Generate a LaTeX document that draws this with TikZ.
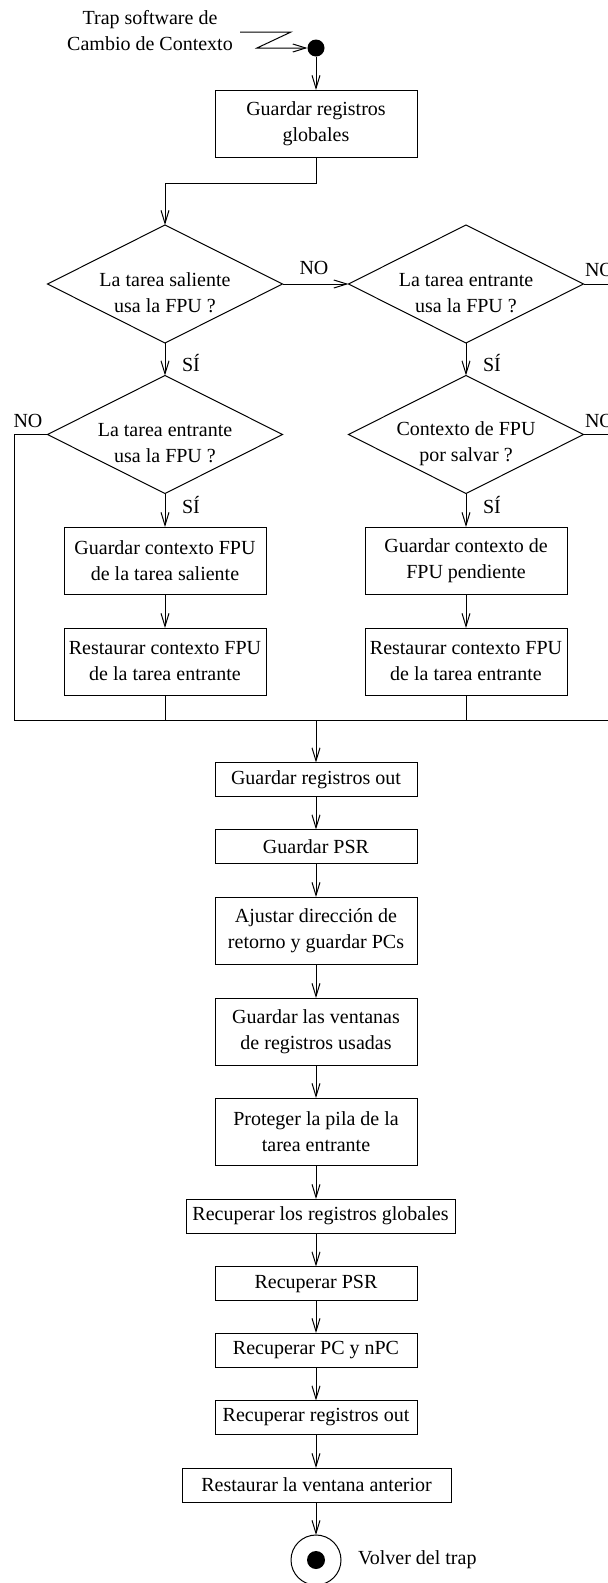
\documentclass[tikz,border=0pt]{standalone}
\usepackage{fontspec}
\setmainfont{Liberation Serif}
\usetikzlibrary{arrows.meta,shapes.geometric}

\begin{document}
\begin{tikzpicture}[x=1pt,y=-1pt,
  every node/.style={font=\fontsize{20}{26}\selectfont, outer sep=0pt},
  wire/.style={line width=1pt},
  flow/.style={wire, -{Straight Barb[length=13pt,width=8pt,line width=1pt]}},
  box/.style={draw, line width=1pt, rectangle, align=center, inner sep=0pt,
              minimum width=202pt, minimum height=34pt},
  tallbox/.style={box, minimum height=67pt},
  widebox/.style={box, minimum width=269pt},
  decision/.style={draw, line width=1pt, diamond, inner sep=0pt,
                   minimum width=235pt, minimum height=118pt},
  dtext/.style={align=center, inner sep=0pt},
  tag/.style={inner sep=0pt},
]
\useasboundingbox (0,0) rectangle (608,1583);
\clip (0,0) rectangle (608,1583);

% entry point
\node[align=center, inner sep=0pt] (trap) at (150,30.5) {Trap software de\\Cambio de Contexto};
\node[circle, fill=black, minimum size=17pt, inner sep=0pt] (start) at (316,48) {};
\coordinate (trapin) at (240,32);
\draw[flow] (trapin) -- (291,32) -- (257,48) -- (start.west);

\node[tallbox] (g1) at (316,123.5) {Guardar registros\\globales};
\draw[flow] (start) -- (g1.north);

% FPU decisions
\node[decision] (d1) at (165,284) {};
\node[dtext] (d1t) at (165,293) {La tarea saliente\\usa la FPU ?};
\node[decision] (d2) at (466,284) {};
\node[dtext] (d2t) at (466,293) {La tarea entrante\\usa la FPU ?};
\node[decision] (d3) at (165,434.5) {};
\node[dtext] (d3t) at (165,443.5) {La tarea entrante\\usa la FPU ?};
\node[decision] (d4) at (466,434.5) {};
\node[dtext] (d4t) at (466,443.5) {Contexto de FPU\\por salvar ?};

\draw[flow] (g1.south) -- ++(0,26) -| (d1.north);
\draw[flow] (d1.east) -- (d2.west);
\draw[flow] (d1.south) -- (d3.north);
\draw[flow] (d2.south) -- (d4.north);

\node[tag] (no1) at (314,268) {NO};
\node[tag, anchor=west] (no2) at (585,270) {NO};
\node[tag] (no3) at (28,421) {NO};
\node[tag, anchor=west] (no4) at (585,421) {NO};
\node[tag, anchor=west] (si1) at (182,363) {SÍ};
\node[tag, anchor=west] (si2) at (483,363) {SÍ};
\node[tag, anchor=west] (si3) at (182,505) {SÍ};
\node[tag, anchor=west] (si4) at (483,505) {SÍ};

% FPU context boxes
\node[tallbox] (l1) at (165,560.5) {Guardar contexto FPU\\de la tarea saliente};
\node[tallbox] (l2) at (165,661.5) {Restaurar contexto FPU\\de la tarea entrante};
\node[tallbox] (r1) at (466,560.5) {Guardar contexto de\\FPU pendiente};
\node[tallbox] (r2) at (466,661.5) {Restaurar contexto FPU\\de la tarea entrante};
\draw[flow] (d3.south) -- (l1.north);
\draw[flow] (l1.south) -- (l2.north);
\draw[flow] (d4.south) -- (r1.north);
\draw[flow] (r1.south) -- (r2.north);

% join bar
\coordinate (joinL) at (14,720);
\coordinate (joinR) at (608,720);
\coordinate (join) at (316,720);
\coordinate (edge2) at (608,284);
\coordinate (edge4) at (608,434.5);
\draw[wire] (joinL) -- (joinR);
\draw[wire] (d3.west) -| (joinL);
\draw[wire] (d2.east) -- (edge2);
\draw[wire] (d4.east) -- (edge4);
\draw[wire] (l2.south) -- (l2.south |- joinL);
\draw[wire] (r2.south) -- (r2.south |- joinL);

% main sequence
\node[box] (out1) at (316,779.5) {Guardar registros out};
\node[box] (psr1) at (316,846.5) {Guardar PSR};
\node[tallbox] (ajus) at (316,930.5) {Ajustar dirección de\\retorno y guardar PCs};
\node[tallbox] (vent) at (316,1031.5) {Guardar las ventanas\\de registros usadas};
\node[tallbox] (prot) at (316,1131.5) {Proteger la pila de la\\tarea entrante};
\node[widebox] (recg) at (320.5,1216) {Recuperar los registros globales};
\node[box] (rpsr) at (316,1283.5) {Recuperar PSR};
\node[box] (rpc) at (316,1350) {Recuperar PC y nPC};
\node[box] (rout) at (316,1417.5) {Recuperar registros out};
\node[widebox] (rven) at (316.5,1485) {Restaurar la ventana anterior};
\node[circle, draw, line width=1pt, minimum size=50pt, inner sep=0pt] (fin) at (316,1560) {};
\node[circle, fill=black, minimum size=18pt, inner sep=0pt] (findot) at (316,1560) {};
\node[tag, anchor=west] (volver) at (358,1560) {Volver del trap};

\draw[flow] (join) -- (out1.north);
\draw[flow] (out1) -- (psr1);
\draw[flow] (psr1) -- (ajus);
\draw[flow] (ajus) -- (vent);
\draw[flow] (vent) -- (prot);
\draw[flow] (prot.south) -- (prot.south |- recg.north);
\draw[flow] (rpsr.north |- recg.south) -- (rpsr.north);
\draw[flow] (rpsr) -- (rpc);
\draw[flow] (rpc) -- (rout);
\draw[flow] (rout.south) -- (rout.south |- rven.north);
\draw[flow] (fin.north |- rven.south) -- (fin.north);
\end{tikzpicture}
\end{document}
